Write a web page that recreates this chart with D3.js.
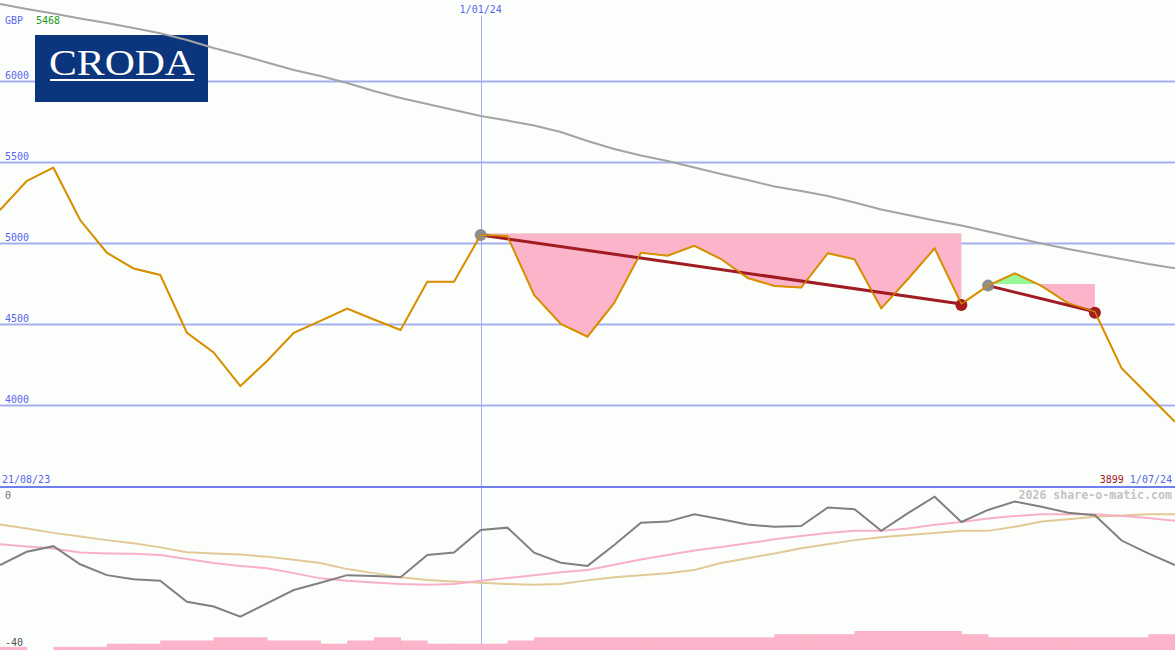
<!DOCTYPE html>
<html>
<head>
<meta charset="utf-8">
<script src="https://cdn.jsdelivr.net/npm/d3@7"></script>
<style>
html,body{margin:0;padding:0;background:#fcfefc;}
svg{display:block;}
text{font-family:"DejaVu Sans Mono",monospace;}
</style>
</head>
<body>
<svg id="chart" width="1175" height="650"></svg>
<script>
// ---------- data (weekly, 21/08/23 .. 1/07/24) ----------
const price = [5207,5386,5468,5145,4943,4846,4806,4449,4328,4120,4275,4448,4522,4598,4531,4466,4764,4764,5052,5046,4682,4503,4425,4633,4943,4925,4986,4904,4787,4738,4728,4940,4902,4600,4781,4970,4627,4740,4816,4738,4631,4579,4230,4065,3899];
const longMA = [6478,6448,6420,6389,6361,6330,6298,6256,6207,6164,6117,6071,6034,5991,5941,5898,5861,5824,5787,5759,5728,5688,5633,5583,5543,5509,5469,5429,5392,5352,5324,5293,5253,5210,5176,5142,5111,5074,5037,5000,4966,4935,4904,4873,4847];
const oscPrice = [-19.4,-16.1,-14.7,-19.2,-21.9,-22.9,-23.3,-28.5,-29.7,-32.2,-28.9,-25.6,-23.8,-21.9,-22.1,-22.4,-16.9,-16.3,-10.7,-10.1,-16.3,-18.8,-19.6,-14.4,-8.9,-8.6,-6.8,-8.0,-9.3,-9.9,-9.7,-5.1,-5.5,-10.9,-6.5,-2.4,-8.7,-5.7,-3.6,-4.9,-6.4,-7.0,-13.3,-16.5,-19.4];
const oscPink = [-14.2,-14.8,-15.3,-16.3,-16.5,-16.6,-16.9,-17.9,-18.9,-19.6,-20.2,-21.4,-22.7,-23.3,-23.7,-24.1,-24.3,-24.1,-23.3,-22.6,-21.9,-21.2,-20.6,-19.3,-18.0,-16.9,-15.8,-14.9,-14.0,-13.0,-12.2,-11.4,-10.9,-10.9,-10.3,-9.4,-8.7,-7.8,-7.2,-6.8,-6.8,-6.8,-7.2,-7.7,-8.4];
const oscTan = [-9.3,-10.3,-11.4,-12.3,-13.2,-14.0,-15.0,-16.2,-16.5,-16.8,-17.3,-18.1,-18.9,-20.4,-21.4,-22.4,-23.1,-23.5,-23.8,-24.1,-24.3,-24.1,-23.2,-22.4,-21.9,-21.4,-20.6,-18.9,-17.7,-16.5,-15.2,-14.2,-13.2,-12.5,-11.9,-11.4,-10.9,-10.9,-9.9,-8.6,-8.0,-7.4,-7.1,-6.8,-6.8];
const volBars = [1,0,1,1,2,2,3,3,4,4,3,3,2,3,4,3,2,2,2,3,4,4,4,4,4,4,4,4,4,5,5,5,6,6,6,6,5,4,4,4,4,4,4,5];
const priceTicks = [4000,4500,5000,5500,6000];
const oscTicks = [0,-40];
const zoneStart = [18,37];
const zoneEnd = [36,41];
const zoneLevel = [5063,4750];
const trendStart = [18,37];
const trendEnd = [36,41];
const dateIdx = [18];
const dateText = ["1/01/24"];
const firstDate = "21/08/23";
const lastDate = "1/07/24";
const highValue = 5468;
const lastValue = 3899;

// ---------- scales ----------
const W = 1175, H = 650;
const svg = d3.select("#chart");
const x = d3.scaleLinear().domain([0, price.length - 1]).range([0, W]);
const y = d3.scaleLinear().domain([4000, 6000]).range([405.5, 81.5]);
const yo = d3.scaleLinear().domain([-40, 0]).range([648, 487]);
const yv = d3.scaleLinear().domain([0, 6]).range([650, 631]);
const step = x(1) - x(0);

const gridCol = "#a4aff2", txtBlue = "#5566ee";

// ---------- gridlines ----------
svg.append("g").selectAll("line").data(priceTicks).join("line")
  .attr("x1", 0).attr("x2", W).attr("y1", d => y(d)).attr("y2", d => y(d))
  .attr("stroke", gridCol).attr("stroke-width", 2);
svg.append("g").selectAll("text").data(priceTicks).join("text")
  .attr("x", 5).attr("y", d => y(d) - 3).attr("font-size", 10).attr("fill", txtBlue)
  .text(d => d);

// vertical date line
svg.append("g").selectAll("line").data(dateIdx).join("line")
  .attr("x1", d => Math.round(x(d)) + 0.5).attr("x2", d => Math.round(x(d)) + 0.5)
  .attr("y1", 16).attr("y2", H).attr("stroke", gridCol).attr("stroke-width", 1);
svg.append("g").selectAll("text").data(dateIdx).join("text")
  .attr("x", d => x(d)).attr("y", 13).attr("text-anchor", "middle")
  .attr("font-size", 10).attr("fill", txtBlue).text((d, i) => dateText[i]);

// ---------- logo ----------
svg.append("rect").attr("x", 35).attr("y", 35).attr("width", 173).attr("height", 67).attr("fill", "#0b357c");
svg.append("text").attr("x", 49).attr("y", 75)
  .style("font-family", "'Liberation Serif','DejaVu Serif',serif")
  .attr("font-size", 35).attr("fill", "#ffffff").attr("textLength", 146).attr("lengthAdjust", "spacingAndGlyphs")
  .text("CRODA");
svg.append("rect").attr("x", 50).attr("y", 79).attr("width", 144).attr("height", 2).attr("fill", "#ffffff");

// header text
svg.append("text").attr("x", 5).attr("y", 24).attr("font-size", 10).attr("fill", txtBlue).text("GBP");
svg.append("text").attr("x", 36).attr("y", 24).attr("font-size", 10).attr("fill", "#229922").text(highValue);

// ---------- zones ----------
const defs = svg.append("defs");
zoneStart.forEach((s, k) => {
  const e = zoneEnd[k], lv = zoneLevel[k];
  const pts = d3.range(s, e + 1);
  const area = d3.area().x(i => x(i)).y0(() => y(lv)).y1(i => y(price[i]));
  defs.append("clipPath").attr("id", "below" + k).append("rect")
    .attr("x", 0).attr("width", W).attr("y", y(lv)).attr("height", H);
  defs.append("clipPath").attr("id", "above" + k).append("rect")
    .attr("x", 0).attr("width", W).attr("y", 0).attr("height", y(lv));
  svg.append("path").datum(pts).attr("d", area).attr("fill", "#fbb4c9").attr("clip-path", `url(#below${k})`);
  svg.append("path").datum(pts).attr("d", area).attr("fill", "#98f898").attr("clip-path", `url(#above${k})`);
});

// ---------- lines top ----------
const idx = d3.range(price.length);
svg.append("path").datum(idx)
  .attr("d", d3.line().x(i => x(i)).y(i => y(longMA[i])))
  .attr("fill", "none").attr("stroke", "#a3a3a3").attr("stroke-width", 2);
svg.append("path").datum(idx)
  .attr("d", d3.line().x(i => x(i)).y(i => y(price[i])))
  .attr("fill", "none").attr("stroke", "#d89000").attr("stroke-width", 2);

// trend lines + dots
trendStart.forEach((s, k) => {
  const e = trendEnd[k];
  svg.append("line").attr("x1", x(s)).attr("y1", y(price[s])).attr("x2", x(e)).attr("y2", y(price[e]))
    .attr("stroke", "#a01c22").attr("stroke-width", 3);
  svg.append("circle").attr("cx", x(s)).attr("cy", y(price[s])).attr("r", 6).attr("fill", "#888888").attr("opacity", 0.95);
  svg.append("circle").attr("cx", x(e)).attr("cy", y(price[e]) + 1).attr("r", 6).attr("fill", "#a51c1c");
});
svg.append("path").datum(idx)
  .attr("d", d3.line().x(i => x(i)).y(i => y(price[i])))
  .attr("fill", "none").attr("stroke", "#d89000").attr("stroke-width", 1.2);

// ---------- separator & labels ----------
svg.append("line").attr("x1", 0).attr("x2", W).attr("y1", 487).attr("y2", 487)
  .attr("stroke", "#6e7ff0").attr("stroke-width", 2);
svg.append("text").attr("x", 2).attr("y", 483).attr("font-size", 10).attr("fill", txtBlue).text(firstDate);
const lastLbl = svg.append("text").attr("x", 1172).attr("y", 483).attr("font-size", 10).attr("text-anchor", "end");
lastLbl.append("tspan").attr("fill", "#a01818").text(lastValue + " ");
lastLbl.append("tspan").attr("fill", txtBlue).text(lastDate);
svg.append("text").attr("x", 1172).attr("y", 499).attr("font-size", 11.6).attr("font-weight", "bold")
  .attr("text-anchor", "end").attr("fill", "#c4c4c4").text("2026 share-o-matic.com");

// ---------- bottom panel ----------
svg.append("g").selectAll("rect").data(volBars).join("rect")
  .attr("x", (d, i) => x(i)).attr("width", step + 0.5)
  .attr("y", d => yv(d)).attr("height", d => 650 - yv(d))
  .attr("fill", "#fbb4c9");

svg.append("text").attr("x", 5).attr("y", yo(oscTicks[0]) + 12).attr("font-size", 10).attr("fill", "#707070").text(oscTicks[0]);
svg.append("text").attr("x", 5).attr("y", yo(oscTicks[1]) - 2).attr("font-size", 10).attr("fill", "#505050").text(oscTicks[1]);

svg.append("path").datum(idx).attr("d", d3.line().x(i => x(i)).y(i => yo(oscTan[i])))
  .attr("fill", "none").attr("stroke", "#e2c998").attr("stroke-width", 2);
svg.append("path").datum(idx).attr("d", d3.line().x(i => x(i)).y(i => yo(oscPink[i])))
  .attr("fill", "none").attr("stroke", "#f8b0c8").attr("stroke-width", 2);
svg.append("path").datum(idx).attr("d", d3.line().x(i => x(i)).y(i => yo(oscPrice[i])))
  .attr("fill", "none").attr("stroke", "#808080").attr("stroke-width", 2);
</script>
</body>
</html>
